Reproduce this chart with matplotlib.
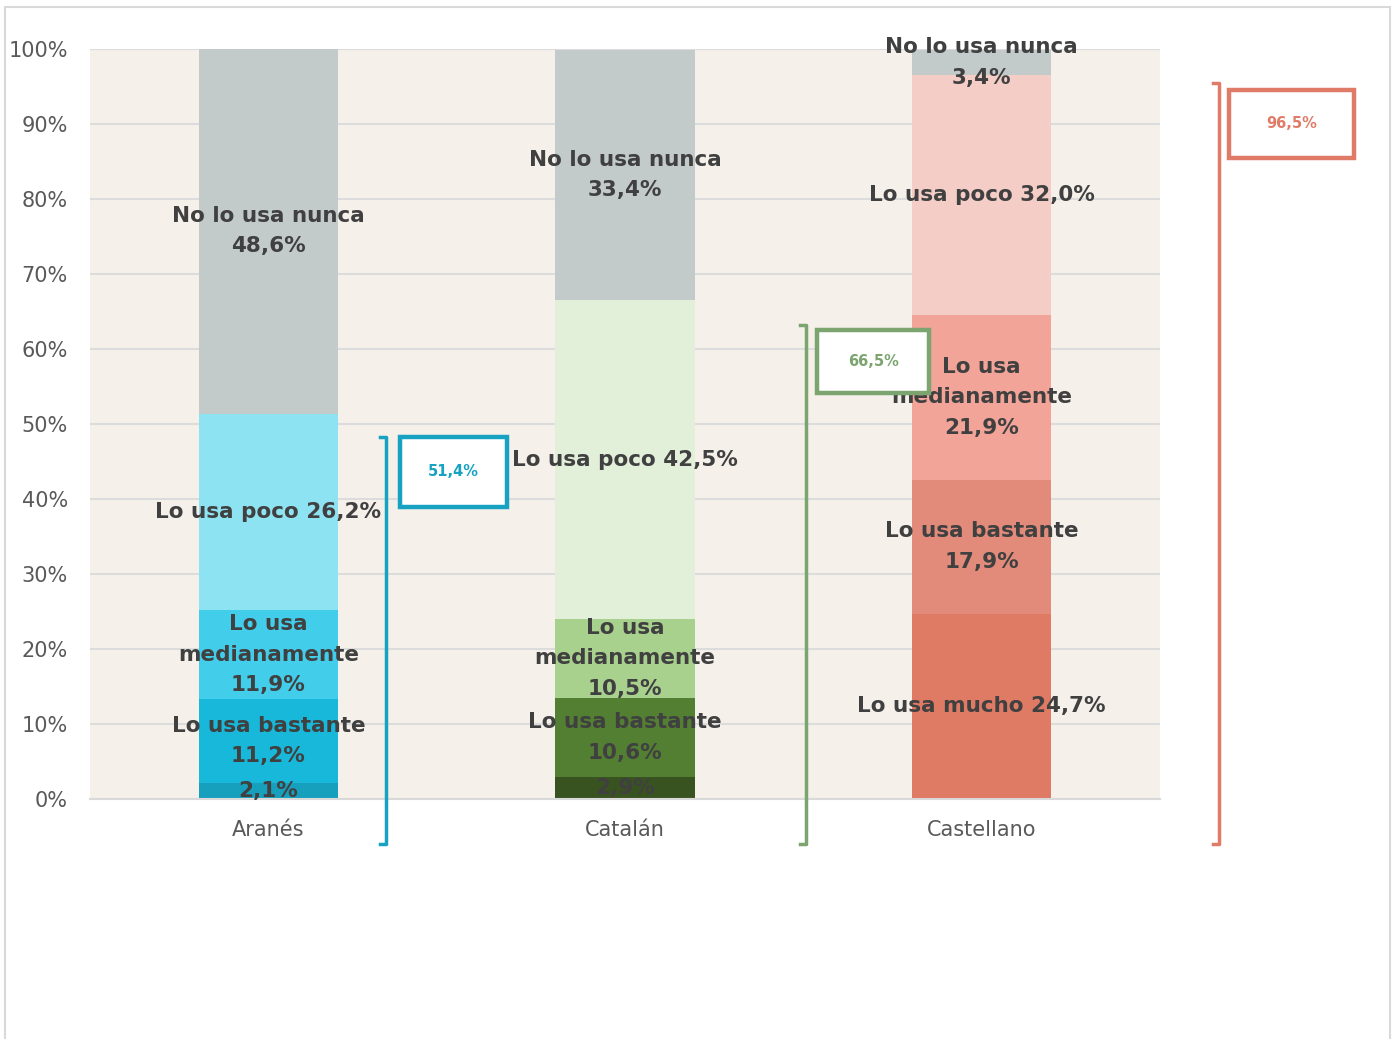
import numpy as np
import matplotlib.pyplot as plt
from matplotlib.patches import Rectangle

# datos
lenguas = ['Aranés', 'Catalán', 'Castellano']
niveles = ['mucho', 'bastante', 'medianamente', 'poco', 'nunca']
mucho = [2.1, 2.9, 24.7]
bastante = [11.2, 10.6, 17.9]
medianamente = [11.9, 10.5, 21.9]
poco = [26.2, 42.5, 32.0]
nunca = [48.6, 33.4, 3.4]
totales = ['51,4%', '66,5%', '96,5%']

colores = [
    ['#17A0BE', '#17B8DA', '#42CEEB', '#8EE3F3', '#C3CBCA'],
    ['#38531F', '#537F33', '#A9D18E', '#E2EFD9', '#C3CBCA'],
    ['#DF7A65', '#E28B7A', '#F1A497', '#F3CDC6', '#C3CBCA'],
]
col_marco = ['#17A2C2', '#7BA46F', '#E07B67']


def etiqueta(nivel, v, i):
    s = ('%.1f%%' % v).replace('.', ',')
    if nivel == 'mucho':
        return 'Lo usa mucho ' + s if i == 2 else s
    if nivel == 'bastante':
        return 'Lo usa bastante\n' + s
    if nivel == 'medianamente':
        return 'Lo usa\nmedianamente\n' + s
    if nivel == 'poco':
        return 'Lo usa poco ' + s
    return 'No lo usa nunca\n' + s


W, H = 1397, 1039
fig = plt.figure(figsize=(W / 100, H / 100), dpi=100)
fig.patches.append(Rectangle((5 / W, -0.01), (1390 - 5) / W, 1.01 - 7 / H,
                             transform=fig.transFigure, fill=False,
                             edgecolor='#D9D9D9', lw=1.5))
ax = fig.add_axes([90 / W, 1 - 799 / H, (1160 - 90) / W, (799 - 49) / H])
ax.set_facecolor('#F5F0EA')

x = np.arange(len(lenguas))
series = [mucho, bastante, medianamente, poco, nunca]
base = np.zeros(3)
for k, (nivel, vals) in enumerate(zip(niveles, series)):
    vals = np.array(vals)
    ax.bar(x, vals, bottom=base, width=0.39,
           color=[colores[i][k] for i in range(3)], zorder=2)
    for i in range(3):
        ax.text(x[i], base[i] + vals[i] / 2, etiqueta(nivel, vals[i], i),
                ha='center', va='center', fontsize=15.5, fontweight='semibold',
                color='#404040', zorder=4, linespacing=1.65)
    base += vals

ax.set_xlim(-0.5, 2.5)
ax.set_ylim(0, 100)
ax.set_yticks(np.arange(0, 101, 10))
ax.set_yticklabels(['%d%%' % v for v in range(0, 101, 10)])
ax.yaxis.grid(True, color='#DCDCDC', lw=1.5, zorder=1)
ax.set_axisbelow(True)
ax.set_xticks(x)
ax.set_xticklabels(lenguas)
for s in ['left', 'right', 'top']:
    ax.spines[s].set_visible(False)
ax.spines['bottom'].set_color('#D9D9D9')
ax.spines['bottom'].set_linewidth(1.5)
ax.tick_params(length=0, colors='#595959')
ax.tick_params(axis='y', labelsize=15, pad=16)
ax.tick_params(axis='x', labelsize=15, pad=15)

# corchetes con el total de uso
corchete_x = [0.329, 1.508, 2.665]
corchete_top = [48.3, 63.2, 95.5]
caja = [(0.368, 38.9, 0.30, 9.4), (1.539, 54.1, 0.314, 8.4), (2.693, 85.5, 0.35, 9.0)]
for i in range(3):
    cx, ct = corchete_x[i], corchete_top[i]
    ax.plot([cx - 0.017, cx, cx, cx - 0.017], [ct, ct, -6.0, -6.0],
            color=col_marco[i], lw=2.5, clip_on=False, zorder=5)
    bx, by, bw, bh = caja[i]
    ax.add_patch(Rectangle((bx, by), bw, bh, facecolor='white',
                           edgecolor=col_marco[i], lw=3.2, clip_on=False, zorder=6))
    ax.text(bx + bw / 2, by + bh / 2, totales[i], ha='center', va='center',
            fontsize=10.5, fontweight='bold', color=col_marco[i], zorder=7)

fig.savefig('out.png', dpi=100)
